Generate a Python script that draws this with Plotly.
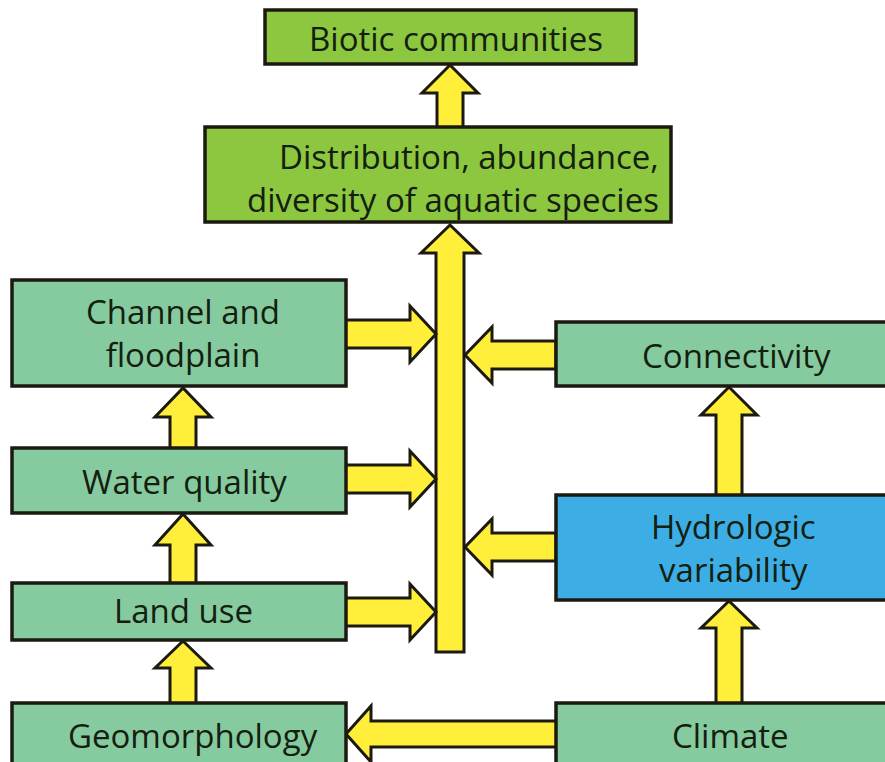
import plotly.graph_objects as go

# ---- content ----
labels = ["Biotic communities",
          "Distribution, abundance,<br>diversity of aquatic species",
          "Channel and<br>floodplain", "Water quality", "Land use", "Geomorphology",
          "Connectivity", "Hydrologic<br>variability", "Climate"]
box_colors = ["#8DC63F", "#8DC63F", "#86CBA0", "#86CBA0", "#86CBA0", "#86CBA0",
              "#86CBA0", "#3DAEE5", "#86CBA0"]

# ---- layout geometry (pixel-like diagram coordinates) ----
box_x0 = [265, 205, 12, 12, 12, 12, 556, 556, 556]
box_x1 = [636, 671, 346, 346, 346, 346, 900, 900, 900]
box_y0 = [10, 127, 280, 448, 583, 703, 322, 495, 703]
box_y1 = [64, 222, 386, 513, 640, 780, 386, 600, 780]
text_x = [456, 661, 183, 184, 183, 193, 736, 733, 730]
text_y = [38, 178, 333, 481, 610, 735, 355, 548, 735]
text_anchor = ["center", "right", "center", "center", "center", "center", "center", "center", "center"]

YEL = "#FFEF3A"
EDGE = "#1c1a10"
TXT = "#14200f"

W, H = 885, 762
fig = go.Figure()
shapes = []

def up_arrow(cx, ty, hy, by, sw=13, hw=28):
    return (f"M {cx-sw},{by} L {cx-sw},{hy} L {cx-hw},{hy} L {cx},{ty} "
            f"L {cx+hw},{hy} L {cx+sw},{hy} L {cx+sw},{by} Z")

def right_arrow(cy, tx, hx, bx, sw=14, hw=28):
    return (f"M {bx},{cy-sw} L {hx},{cy-sw} L {hx},{cy-hw} L {tx},{cy} "
            f"L {hx},{cy+hw} L {hx},{cy+sw} L {bx},{cy+sw} Z")

arrow_paths = [
    up_arrow(450, 65, 93, 128),            # distribution -> biotic
    up_arrow(450, 225, 253, 652, sw=14, hw=29),  # main bar
    up_arrow(183, 388, 417, 449),          # water quality -> channel
    up_arrow(183, 514, 545, 584),          # land use -> water quality
    up_arrow(183, 641, 668, 704),          # geomorph -> land use
    up_arrow(729, 387, 415, 496),          # hydro -> connectivity
    up_arrow(729, 601, 628, 704),          # climate -> hydro
    right_arrow(334, 436, 410, 345),       # channel -> bar
    right_arrow(479, 436, 410, 345),       # water quality -> bar
    right_arrow(612, 436, 410, 345),       # land use -> bar
    right_arrow(355, 465, 492, 556),       # connectivity -> bar
    right_arrow(547, 465, 492, 556),       # hydro -> bar
    right_arrow(734, 346, 371, 557, sw=13, hw=28),  # climate -> geomorph
]
for p in arrow_paths:
    shapes.append(dict(type="path", path=p, xref="x", yref="y",
                       fillcolor=YEL, line=dict(color=EDGE, width=3), layer="above"))

for i in range(len(labels)):
    shapes.append(dict(type="rect", xref="x", yref="y",
                       x0=box_x0[i], x1=box_x1[i], y0=box_y0[i], y1=box_y1[i],
                       fillcolor=box_colors[i], line=dict(color=EDGE, width=3.5),
                       layer="above"))

annotations = []
for i, lab in enumerate(labels):
    annotations.append(dict(x=text_x[i], y=text_y[i], xref="x", yref="y", text=lab,
                            showarrow=False, xanchor=text_anchor[i], yanchor="middle",
                            align="right" if text_anchor[i] == "right" else "center",
                            font=dict(family="Open Sans", size=33, color=TXT)))

fig.update_layout(width=W, height=H, margin=dict(l=0, r=0, t=0, b=0),
                  paper_bgcolor="white", plot_bgcolor="white",
                  xaxis=dict(range=[0, W], visible=False, fixedrange=True),
                  yaxis=dict(range=[H, 0], visible=False, fixedrange=True),
                  shapes=shapes, annotations=annotations, showlegend=False)
fig.write_html("out.html", config={"displayModeBar": False},
               post_script="document.body.style.margin='0';document.body.style.overflow='hidden';")
